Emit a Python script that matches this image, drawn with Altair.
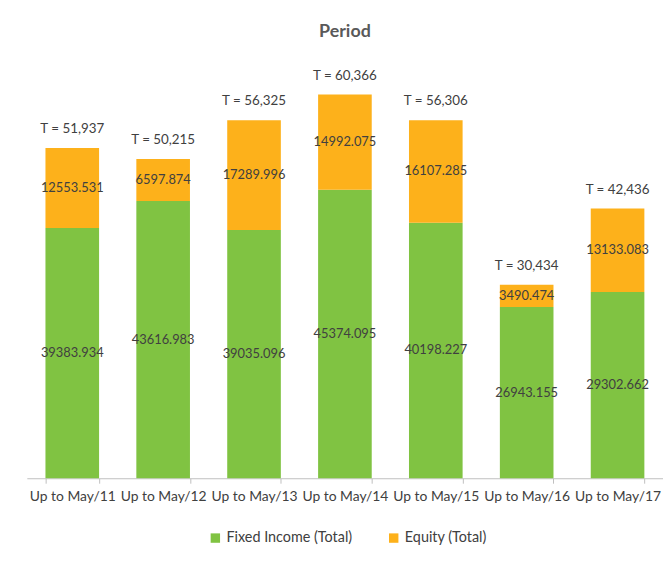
import altair as alt
import pandas as pd

categories = ["Up to May/11", "Up to May/12", "Up to May/13", "Up to May/14",
              "Up to May/15", "Up to May/16", "Up to May/17"]
fixed_income = [39383.934, 43616.983, 39035.096, 45374.095, 40198.227, 26943.155, 29302.662]
equity = [12553.531, 6597.874, 17289.996, 14992.075, 16107.285, 3490.474, 13133.083]
series_names = ["Fixed Income (Total)", "Equity (Total)"]
colors = ["#80c342", "#fdb11b"]

rows = []
for i, c in enumerate(categories):
    rows.append({"cat": c, "series": series_names[0], "value": fixed_income[i], "ord": 0})
    rows.append({"cat": c, "series": series_names[1], "value": equity[i], "ord": 1})
df = pd.DataFrame(rows)

FONT = "Lato"
TXT = "#404040"

x_enc = alt.X("cat:N", sort=categories, title=None,
              scale=alt.Scale(paddingInner=0.41, paddingOuter=0.205),
              axis=alt.Axis(labelAngle=0, labelFontSize=14, labelColor=TXT, labelFont=FONT,
                            domainColor="#bfbfbf", tickColor="#bfbfbf", tickSize=5,
                            tickBand="extent", labelPadding=6))
y_scale = alt.Scale(domain=[0, 65000], nice=False)

base = alt.Chart(df)

bars = base.mark_bar().encode(
    x=x_enc,
    y=alt.Y("value:Q", stack="zero", scale=y_scale, axis=None),
    color=alt.Color("series:N", sort=series_names,
                    scale=alt.Scale(domain=series_names, range=colors),
                    legend=alt.Legend(title=None, orient="none", direction="horizontal",
                                      legendX=183, legendY=470, padding=0,
                                      symbolType="square", symbolSize=90, symbolStrokeWidth=0,
                                      labelFontSize=14.5, labelColor=TXT, labelFont=FONT,
                                      columnPadding=34)),
    order=alt.Order("ord:Q"),
)

seg_labels = base.transform_stack(
    stack="value", groupby=["cat"], as_=["v0", "v1"], sort=[alt.SortField("ord")]
).transform_calculate(
    mid="(datum.v0 + datum.v1) / 2",
    lbl="format(datum.value, '.3f')"
).mark_text(fontSize=13, color=TXT, font=FONT, baseline="middle").encode(
    x=alt.X("cat:N", sort=categories),
    y=alt.Y("mid:Q", scale=y_scale),
    text="lbl:N",
)

totals = base.transform_aggregate(
    total="sum(value)", groupby=["cat"]
).transform_calculate(
    lbl="'T = ' + format(datum.total, ',.0f')"
).mark_text(fontSize=13.5, color=TXT, font=FONT, baseline="bottom", dy=-12).encode(
    x=alt.X("cat:N", sort=categories),
    y=alt.Y("total:Q", scale=y_scale),
    text="lbl:N",
)

chart = alt.layer(bars, seg_labels, totals).properties(
    width=642, height=417,
    background="white",
    title=alt.Title("Period", fontSize=18, fontWeight="bold", color="#595959", font=FONT,
                    anchor="middle", offset=24),
    padding={"left": 19, "top": 13, "right": 0, "bottom": 20},
).configure_view(stroke=None)

chart.save("out.html", embed_options={"renderer": "svg", "actions": False})
